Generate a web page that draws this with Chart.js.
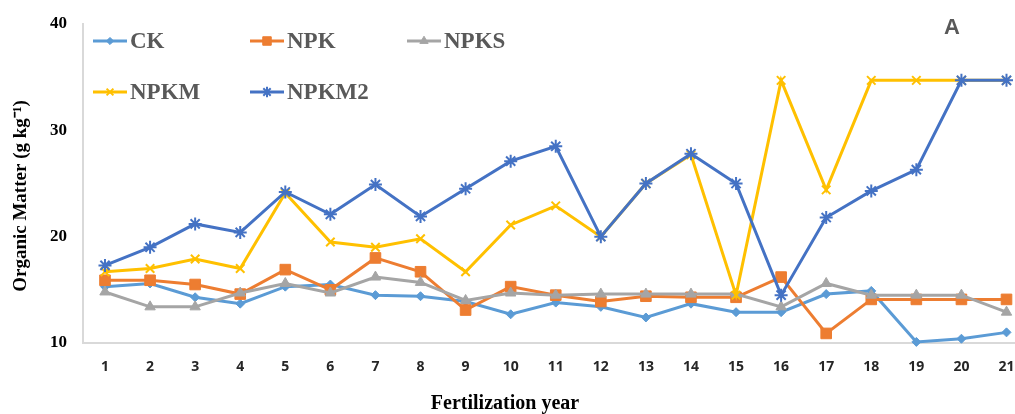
<!DOCTYPE html>
<html>
<head>
<meta charset="utf-8">
<script src="https://cdn.jsdelivr.net/npm/chart.js@4/dist/chart.umd.min.js"></script>
<style>
  html, body { margin: 0; padding: 0; background: #ffffff; }
  #wrap { position: relative; width: 1015px; height: 414px; }
</style>
</head>
<body>
<div id="wrap"><canvas id="chart" width="1015" height="414"></canvas></div>
<script>
// Fertilization years on the x axis
const years = [1,2,3,4,5,6,7,8,9,10,11,12,13,14,15,16,17,18,19,20,21];
const yearLabels = years.map(String);

// Organic matter (g kg-1) per treatment
const ck    = [15.3,15.6,14.3,13.7,15.3,15.5,14.5,14.4,13.9,12.7,13.8,13.4,12.4,13.7,12.9,12.9,14.6,14.9,10.1,10.4,11.0];
const npk   = [15.9,15.9,15.5,14.6,16.9,15.0,18.0,16.7,13.1,15.3,14.5,13.9,14.4,14.3,14.3,16.2,10.9,14.1,14.1,14.1,14.1];
const npks  = [14.8,13.4,13.4,14.7,15.6,14.7,16.2,15.7,14.0,14.7,14.5,14.6,14.6,14.6,14.6,13.4,15.6,14.5,14.5,14.5,12.9];
const npkm  = [16.7,17.0,17.9,17.0,24.1,19.5,19.0,19.8,16.7,21.1,22.9,20.0,25.0,27.7,14.5,34.7,24.4,34.7,34.7,34.7,34.7];
const npkm2 = [17.3,19.0,21.2,20.4,24.2,22.1,24.9,21.9,24.5,27.1,28.5,20.0,25.0,27.8,25.0,14.5,21.8,24.3,26.3,34.7,34.7];

// Y axis tick values
const yTicks = [10, 20, 30, 40];

const pts = arr => arr.map((v, i) => ({ x: years[i], y: v }));

function series(label, data, color, style, radius, order) {
  return {
    label, data: pts(data), order,
    borderColor: color, backgroundColor: color,
    borderWidth: 3, pointStyle: style, pointRadius: radius,
    pointBorderWidth: style === 'crossRot' || style === 'star' ? 2 : 1,
    pointBorderColor: color, pointBackgroundColor: color,
    tension: 0, clip: false
  };
}

const datasets = [
  series('CK',    ck,    '#5B9BD5', 'rectRot',  4.5, 5),
  series('NPK',   npk,   '#ED7D31', 'rect',     7.5, 4),
  series('NPKS',  npks,  '#A5A5A5', 'triangle', 6,   3),
  series('NPKM',  npkm,  '#FFC000', 'crossRot', 6,   2),
  series('NPKM2', npkm2, '#4472C4', 'star',     6.5, 1)
];

// Legend laid out in two rows
const legendSlots = [
  { x: 93,  y: 41 }, { x: 250, y: 41 }, { x: 407, y: 41 },
  { x: 93,  y: 92 }, { x: 250, y: 92 }
];

const SERIF = '"Liberation Serif", "Times New Roman", serif';

// Horizontal axis line runs on to the right edge of the canvas
const axisLine = {
  id: 'axisLine',
  beforeDatasetsDraw(chart) {
    const { ctx, chartArea } = chart;
    ctx.save();
    ctx.strokeStyle = '#d9d9d9';
    ctx.lineWidth = 2;
    ctx.beginPath();
    ctx.moveTo(chartArea.left, chartArea.bottom);
    ctx.lineTo(chart.width, chartArea.bottom);
    ctx.stroke();
    ctx.restore();
  }
};

// Legend, panel letter and axis titles
const annotations = {
  id: 'annotations',
  afterDraw(chart) {
    const ctx = chart.ctx;
    ctx.save();
    chart.data.datasets.forEach((ds, i) => {
      const s = legendSlots[i];
      ctx.strokeStyle = ds.borderColor;
      ctx.fillStyle = ds.borderColor;
      ctx.lineWidth = 3;
      ctx.beginPath();
      ctx.moveTo(s.x, s.y);
      ctx.lineTo(s.x + 34, s.y);
      ctx.stroke();
      ctx.lineWidth = ds.pointBorderWidth;
      Chart.helpers.drawPoint(ctx, {
        pointStyle: ds.pointStyle,
        radius: ds.pointRadius * 0.8,
        borderWidth: ds.pointBorderWidth,
        rotation: 0
      }, s.x + 17, s.y);
      ctx.fillStyle = '#595959';
      ctx.font = 'bold 23px ' + SERIF;
      ctx.textBaseline = 'middle';
      ctx.textAlign = 'left';
      ctx.fillText(ds.label, s.x + 37, s.y + 1);
    });

    ctx.fillStyle = '#595959';
    ctx.font = 'bold 22px "Liberation Sans", Arial, sans-serif';
    ctx.textAlign = 'center';
    ctx.textBaseline = 'middle';
    ctx.fillText('A', 952, 28);

    ctx.fillStyle = '#000000';
    ctx.font = 'bold 20px ' + SERIF;
    ctx.fillText('Fertilization year', 505, 404);

    ctx.translate(21, 196);
    ctx.rotate(-Math.PI / 2);
    ctx.font = 'bold 19px ' + SERIF;
    ctx.fillText('Organic Matter (g kg\u207B\u00B9)', 0, 0);
    ctx.restore();
  }
};

new Chart(document.getElementById('chart'), {
  type: 'line',
  data: { datasets },
  plugins: [axisLine, annotations],
  options: {
    responsive: false,
    animation: false,
    layout: { padding: { top: 24, right: 0, left: 0, bottom: 0 } },
    plugins: { legend: { display: false }, tooltip: { enabled: false } },
    scales: {
      x: {
        type: 'linear',
        min: 0.512,
        max: 21.0,
        afterBuildTicks: scale => { scale.ticks = years.map(v => ({ value: v })); },
        afterFit: scale => { scale.height = 71; scale.paddingRight = 0; scale.paddingLeft = 0; },
        grid: { display: false, drawTicks: false },
        border: { display: false },
        ticks: {
          autoSkip: false,
          maxRotation: 0,
          padding: 16,
          color: '#262626',
          font: { family: '"Open Sans", "Liberation Sans", sans-serif', weight: 'bold', size: 14 },
          callback: v => yearLabels[years.indexOf(v)] ?? ''
        }
      },
      y: {
        min: 10,
        max: 40,
        afterBuildTicks: scale => { scale.ticks = yTicks.map(v => ({ value: v })); },
        afterFit: scale => { scale.width = 83; scale.paddingTop = 0; scale.paddingBottom = 0; },
        grid: { display: false, drawTicks: false },
        border: { display: true, color: '#d9d9d9', width: 2 },
        ticks: {
          padding: 16,
          color: '#000000',
          font: { family: SERIF, weight: 'bold', size: 17 }
        }
      }
    }
  }
});
</script>
</body>
</html>
